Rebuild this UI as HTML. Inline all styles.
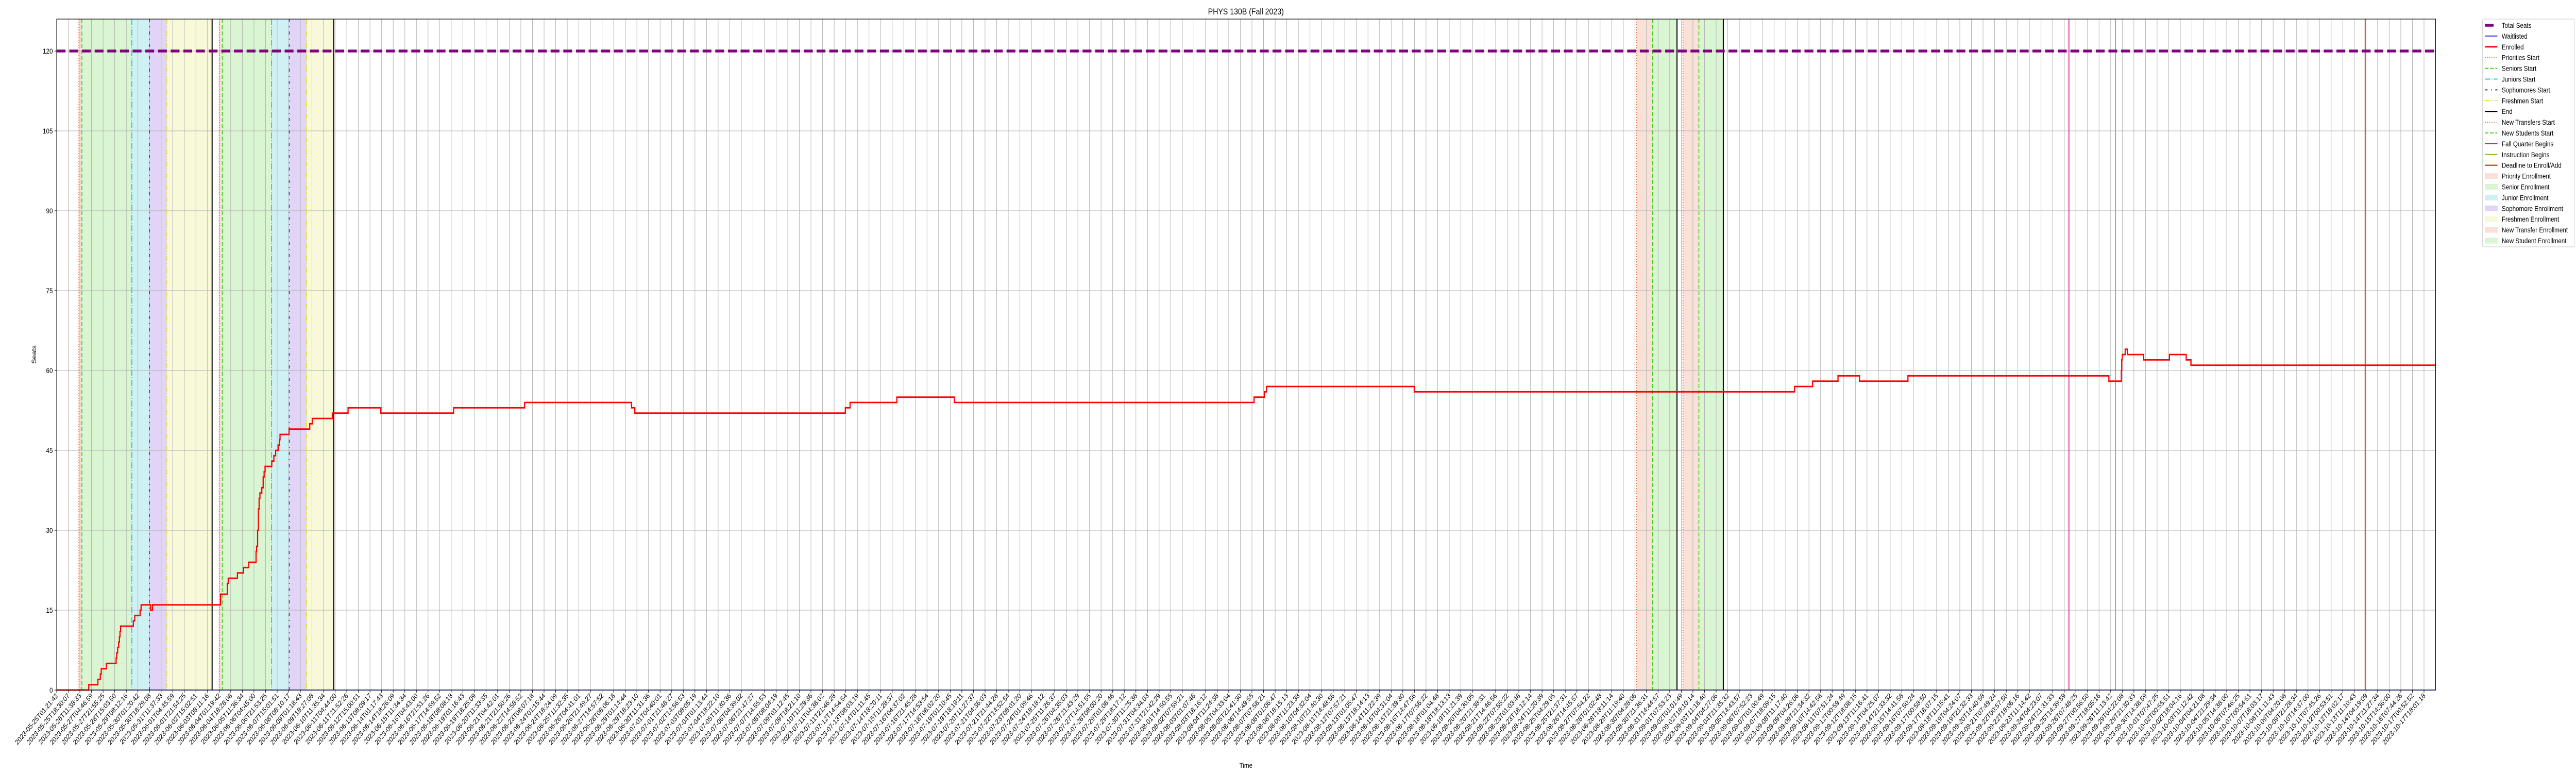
<!DOCTYPE html>
<html><head><meta charset="utf-8"><style>
html,body{margin:0;padding:0;background:#fff;width:100vw;height:100vh;overflow:hidden}
svg{display:block;overflow:hidden;width:100vw;height:100vh;font-family:"Liberation Sans","DejaVu Sans",sans-serif}
</style></head><body>
<svg id="chart" viewBox="0 0 6000 1500" preserveAspectRatio="none" xmlns="http://www.w3.org/2000/svg">
<text x="2902" y="28" font-size="17" text-anchor="middle">PHYS 130B (Fall 2023)</text>
<text x="2902" y="1490" font-size="14" text-anchor="middle">Time</text>
<text x="84" y="688" font-size="14" text-anchor="middle" transform="rotate(-90 84 688)">Seats</text>
<g id="shades"></g>
<g id="grid"></g>
<g id="events"></g>
<g id="series"></g>
<g id="axes"></g>
<g id="legend"></g>
</svg>
<script>
// ---- data (hours since 2023-05-25T01:21:42) ----
const totalSeats = 120;
const enrolledHours = [0,47.4,60.9,64.4,65.8,73.4,87.8,88.7,90.1,91.5,92.7,93.5,94.4,113.3,115.3,123.2,124.7,138.8,141.6,242.1,252.0,253.4,267.0,276.1,283.7,294.5,295.3,296.8,297.9,299.0,300.2,303.0,305.0,306.4,307.8,317.7,320.8,323.4,327.1,329.0,329.9,343.2,373.8,377.5,407.2,430.4,478.8,586.3,691.2,849.1,853.9,1164.9,1171.9,1241.0,1326.0,1768.6,1783.8,1787.0,2005.2,2567.0,2593.6,2631.1,2662.8,2734.4,3031.2,3049.6,3050.2,3050.9,3055.3,3058.5,3082.6,3120.6,3145.4,3152.4,3513.8];
const enrolledValues = [0,1,2,3,4,5,6,7,8,9,10,11,12,13,14,15,16,15,16,18,20,21,22,23,24,26,27,30,34,36,37,38,40,41,42,43,44,45,46,47,48,49,50,51,52,53,52,53,54,53,52,53,54,55,54,55,56,57,56,57,58,59,58,59,58,60,62,63,64,63,62,63,62,61,61];
const waitHours = [0,3513.8];
const waitValues = [0,0];
const eventNames = ["priorities","seniors","juniors","sophomores","freshmen","end","priorities","seniors","juniors","sophomores","freshmen","end","transfers","newstudents","end","transfers","newstudents","end","fall","instruction","deadline"];
const eventHours = [32.8,37.2,111.0,137.0,162.7,229.6,240.3,244.6,317.5,343.6,369.1,409.3,2333.6,2357.1,2393.3,2402.1,2425.6,2461.7,2972.2,3041.1,3409.8];
const periodNames = ["priority","senior","junior","sophomore","freshmen","priority","senior","junior","sophomore","freshmen","transfer","newstudent","transfer","newstudent"];
const periodStart = [32.8,37.2,111.0,137.0,162.7,240.3,244.6,317.5,343.6,369.1,2333.6,2357.1,2402.1,2425.6];
const periodEnd = [37.2,111.0,137.0,162.7,229.6,244.6,317.5,343.6,369.1,409.3,2357.1,2393.3,2425.6,2461.7];
const yTicks = [0,15,30,45,60,75,90,105,120];
const tickCount = 205;
const spanHours = 3496.66;
const startMs = Date.UTC(2023,4,25,1,21,42);
const xMax = 3513.8, yMax = 126;

// ---- scales ----
const L=132,R=5673,T=37,B=1339;
const x = h => L + h/xMax*(R-L);
const y = v => B - v/yMax*(B-T);
const NS="http://www.w3.org/2000/svg";
function mk(tag,parent,attrs){const e=document.createElementNS(NS,tag);for(const k in attrs)e.setAttribute(k,attrs[k]);parent.appendChild(e);return e;}
const $=id=>document.getElementById(id);

const shadeColor={priority:"#f9e1d7",senior:"#daf5d1",junior:"#cff1f4",sophomore:"#e1d4f6",freshmen:"#f8f9d9",transfer:"#f9e1d7",newstudent:"#daf5d1"};
periodStart.forEach((s,i)=>{
  const r=mk('rect',$('shades'),{x:x(s),y:T,width:x(periodEnd[i])-x(s),height:B-T,fill:shadeColor[periodNames[i]]});
  
  
});

// grid + ticks
const fmt=d=>d.toISOString().slice(0,19);
for(let i=0;i<tickCount;i++){
  const h=i*spanHours/(tickCount-1);
  const px=x(h);
  const g=mk('line',$('grid'),{x1:px,x2:px,y1:T,y2:B,stroke:"#b0b0b0","stroke-width":1.1});
  
  
  mk('line',$('axes'),{x1:px,x2:px,y1:B,y2:B+5,stroke:"#000","stroke-width":1.1});
  const lbl=fmt(new Date(startMs+h*3600000));
  const t=mk('text',$('axes'),{x:px+4,y:B+12,"font-size":14,"text-anchor":"end",transform:`rotate(-45 ${px+4} ${B+12})`});
  t.textContent=lbl;
  
  
}
yTicks.forEach(v=>{
  const g=mk('line',$('grid'),{x1:L,x2:R,y1:y(v),y2:y(v),stroke:"#b0b0b0","stroke-width":1.1});
  
  
  mk('line',$('axes'),{x1:L-5,x2:L,y1:y(v),y2:y(v),stroke:"#000","stroke-width":1.1});
  const t=mk('text',$('axes'),{x:L-9,y:y(v)+5,"font-size":14,"text-anchor":"end"});
  t.textContent=v;
  
  
});

const evStyle={
  priorities:{c:"#ea7240",d:"2 3",w:2},
  seniors:{c:"#3fd01e",d:"8 4",w:2},
  juniors:{c:"#1cc6d8",d:"12 3 2 3",w:2},
  sophomores:{c:"#6a2bd6",d:"6 8 2 8",w:2.2},
  freshmen:{c:"#e2e22c",d:"10 3 2 3 2 3",w:2},
  end:{c:"#000",d:"",w:2.4},
  transfers:{c:"#ea7240",d:"2 3",w:2},
  newstudents:{c:"#3fd01e",d:"8 4",w:2},
  fall:{c:"#e0139e",d:"",w:2},
  instruction:{c:"#8db51c",d:"",w:2},
  deadline:{c:"#d2451e",d:"",w:2.4}
};
eventHours.forEach((h,i)=>{
  const s=evStyle[eventNames[i]];
  const a={x1:x(h),x2:x(h),y1:T,y2:B,stroke:s.c,"stroke-width":s.w};
  if(s.d)a["stroke-dasharray"]=s.d;
  const l=mk('line',$('events'),a);
  
  
});

// total seats
const ts=mk('line',$('series'),{x1:L,x2:R,y1:y(totalSeats),y2:y(totalSeats),stroke:"#800080","stroke-width":5.5,"stroke-dasharray":"20.6 8.9"});


function stepPath(hs,vs){let d=`M${x(hs[0])},${y(vs[0])}`;for(let i=1;i<hs.length;i++){d+=`H${x(hs[i])}V${y(vs[i])}`;}return d;}
const wl=mk('path',$('series'),{d:stepPath(waitHours,waitValues),fill:"none",stroke:"#0000ff","stroke-width":1.6});


const en=mk('path',$('series'),{d:stepPath(enrolledHours,enrolledValues),fill:"none",stroke:"#ff0000","stroke-width":2.8});



const frame=mk('rect',$('axes'),{x:L,y:T,width:R-L,height:B-T,fill:"none",stroke:"#000","stroke-width":1.2});



// legend
const legendLabels=["Total Seats","Waitlisted","Enrolled","Priorities Start","Seniors Start","Juniors Start","Sophomores Start","Freshmen Start","End","New Transfers Start","New Students Start","Fall Quarter Begins","Instruction Begins","Deadline to Enroll/Add","Priority Enrollment","Senior Enrollment","Junior Enrollment","Sophomore Enrollment","Freshmen Enrollment","New Transfer Enrollment","New Student Enrollment"];
const legendKind=[{c:"#800080",w:5.5},{c:"#0000ff",w:1.6},{c:"#ff0000",w:2.8},{s:"priorities"},{s:"seniors"},{s:"juniors"},{s:"sophomores"},{s:"freshmen"},{s:"end"},{s:"transfers"},{s:"newstudents"},{s:"fall"},{s:"instruction"},{s:"deadline"},{p:"priority"},{p:"senior"},{p:"junior"},{p:"sophomore"},{p:"freshmen"},{p:"transfer"},{p:"newstudent"}];
const lb=mk('rect',$('legend'),{x:5782,y:37,width:214,height:442,fill:"#fff",stroke:"#d0d0d0","stroke-width":1.2,rx:3});


legendLabels.forEach((lab,i)=>{
  const cy=49+i*20.9, k=legendKind[i];
  const g=mk('g',$('legend'),{});
  
  
  if(k.p){mk('rect',g,{x:5788,y:cy-5,width:29,height:10,fill:shadeColor[k.p],stroke:shadeColor[k.p]});}
  else if(k.s){const s=evStyle[k.s];const a={x1:5788,x2:5817,y1:cy,y2:cy,stroke:s.c,"stroke-width":s.w};if(s.d)a["stroke-dasharray"]=s.d;mk('line',g,a);}
  else mk('line',g,{x1:5788,x2:i===0?5808:5817,y1:cy,y2:cy,stroke:k.c,"stroke-width":k.w});
  const t=mk('text',g,{x:5827,y:cy+5,"font-size":14});
  t.textContent=lab;
});
</script>
</body></html>
